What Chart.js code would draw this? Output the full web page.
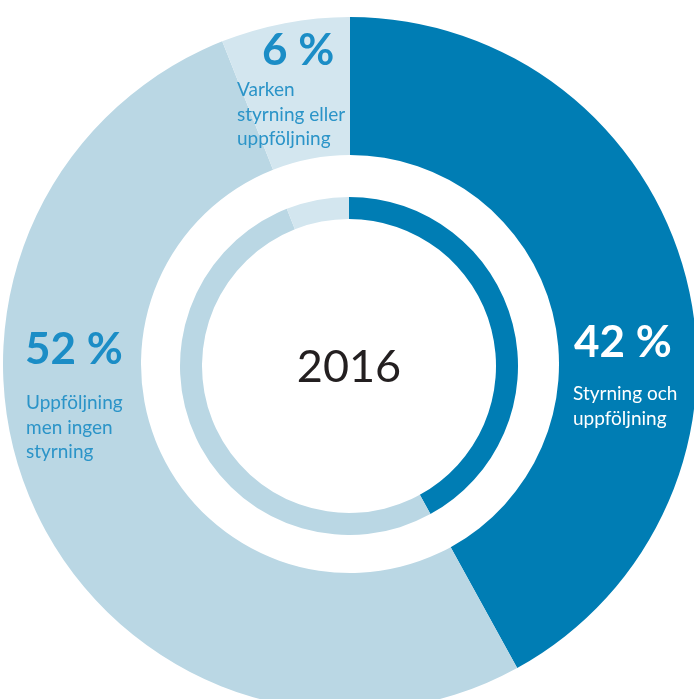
<!DOCTYPE html>
<html>
<head>
<meta charset="utf-8">
<script src="https://cdn.jsdelivr.net/npm/chart.js@4/dist/chart.umd.min.js"></script>
<style>
  html, body { margin: 0; padding: 0; background: #fff; }
  #wrap { position: relative; width: 694px; height: 699px; overflow: hidden; background: #fff; }
  canvas { position: absolute; display: block; }
  #outer { left: 3px; top: 17px; }
  #inner { left: 180px; top: 197px; }
  .lbl { position: absolute; font-family: Lato, "Open Sans", sans-serif; white-space: nowrap; }
  .num { font-weight: 700; font-size: 44px; line-height: 44px; }
  .desc { font-weight: 400; font-size: 19px; line-height: 24.5px; }
  #center { position: absolute; left: 249px; width: 200px; text-align: center; top: 337px;
            font-family: Lato, "Open Sans", sans-serif; font-size: 45px; line-height: 56px; color: #231f20; }
</style>
</head>
<body>
<div id="wrap">
  <canvas id="outer" width="694" height="694"></canvas>
  <canvas id="inner" width="338" height="338"></canvas>
  <div id="center"></div>
</div>
<script>
// ---- data ----
const categories = ["Styrning och uppföljning", "Uppföljning men ingen styrning", "Varken styrning eller uppföljning"];
const categoryLines = [["Styrning och", "uppföljning"], ["Uppföljning", "men ingen", "styrning"], ["Varken", "styrning eller", "uppföljning"]];
const outerShares = [42, 52, 6];
const innerShares = [42, 52, 6];
const centerLabel = "2016";

// ---- styles ----
const sliceColors = ["#007db4", "#bad7e4", "#d3e6ef"];
const numColors = ["#ffffff", "#1b8dc6", "#1b8dc6"];
const descColors = ["#ffffff", "#2b94c8", "#2b94c8"];
const labelPos = [
  { numLeft: 574, numTop: 318, descLeft: 573, descTop: 381 },
  { numLeft: 25, numTop: 325, descLeft: 26, descTop: 390 },
  { numLeft: 262, numTop: 26, descLeft: 237, descTop: 77 }
];

const commonOpts = (cutout) => ({
  type: 'doughnut',
  options: {
    responsive: false,
    animation: false,
    events: [],
    cutout: cutout,
    rotation: 0,
    layout: { padding: 0 },
    plugins: { legend: { display: false }, tooltip: { enabled: false } }
  }
});

const o = commonOpts(209);
o.data = { labels: categories, datasets: [{ data: outerShares, backgroundColor: sliceColors, borderWidth: 0 }] };
new Chart(document.getElementById('outer'), o);

const i = commonOpts(147);
i.data = { labels: categories, datasets: [{ data: innerShares, backgroundColor: sliceColors, borderWidth: 0 }] };
new Chart(document.getElementById('inner'), i);

// ---- labels ----
const wrap = document.getElementById('wrap');
outerShares.forEach((v, k) => {
  const p = labelPos[k];
  const n = document.createElement('div');
  n.className = 'lbl num';
  n.style.left = p.numLeft + 'px';
  n.style.top = p.numTop + 'px';
  n.style.color = numColors[k];
  n.textContent = v + ' %';
  wrap.appendChild(n);
  const d = document.createElement('div');
  d.className = 'lbl desc';
  d.style.left = p.descLeft + 'px';
  d.style.top = p.descTop + 'px';
  d.style.color = descColors[k];
  categoryLines[k].forEach((line, j) => {
    if (j) d.appendChild(document.createElement('br'));
    d.appendChild(document.createTextNode(line));
  });
  wrap.appendChild(d);
});
document.getElementById('center').textContent = centerLabel;
</script>
</body>
</html>
